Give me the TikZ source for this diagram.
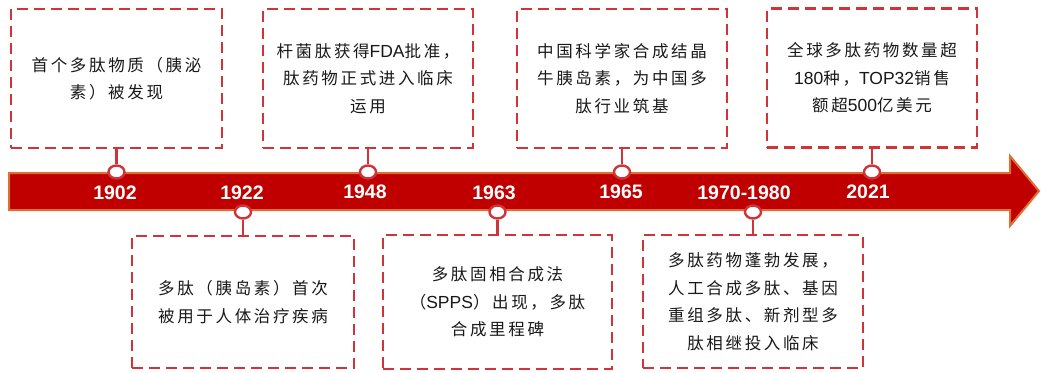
\documentclass[tikz,border=0pt]{standalone}
\usepackage{fontspec}
\usetikzlibrary{shapes.geometric}
\newfontfamily\cjkf[LetterSpace=16]{Noto Sans CJK SC}
\newfontfamily\latf{Liberation Sans}
\setmainfont{Liberation Sans}
\definecolor{bandred}{RGB}{192,0,0}
\definecolor{bandedge}{RGB}{222,110,50}
\definecolor{boxred}{RGB}{209,52,56}
\newcommand\Lt[1]{{\latf\fontsize{17.5}{27.5}\selectfont #1}}
\tikzset{
  evbox/.style={draw=boxred, line width=2.8pt, dash pattern=on 11pt off 6pt,
    fill=white, align=center, inner sep=0pt,
    font=\cjkf\fontsize{16.5}{27.5}\selectfont, text=black!90},
  evdot/.style={ellipse, draw=boxred, line width=2.4pt, fill=white,
    minimum width=16pt, minimum height=13pt, inner sep=0pt},
  conn/.style={draw=boxred, line width=2.8pt},
  yearlab/.style={text=white, font=\bfseries\fontsize{19.5}{20}\selectfont, inner sep=0pt}
}
\begin{document}
\begin{tikzpicture}[x=1pt,y=-1pt]
\useasboundingbox (0,0) rectangle (1041,372);
% band arrow
\path[fill=bandred, draw=bandedge, line width=2pt, line join=miter]
  (9,173) -- (1010,173) -- (1010,156) -- (1039,191) -- (1010,226) -- (1010,210) -- (9,210) -- cycle;
% top boxes
\node[evbox, minimum width=211pt, minimum height=139pt] (b1) at (116.5,78.5)
  {首个多肽物质（胰泌\\素）被发现};
\node[evbox, minimum width=210pt, minimum height=139pt] (b2) at (368,78.5)
  {杆菌肽获得\Lt{FDA}批准，\\肽药物正式进入临床\\运用};
\node[evbox, minimum width=210pt, minimum height=139pt] (b3) at (622,78.5)
  {中国科学家合成结晶\\牛胰岛素，为中国多\\肽行业筑基};
\node[evbox, minimum width=210pt, minimum height=139pt] (b4) at (872,78)
  {全球多肽药物数量超\\\Lt{180}种，\Lt{TOP32}销售\\额超\Lt{500}亿美元};
% bottom boxes
\node[evbox, minimum width=222pt, minimum height=132pt] (d1) at (243,302)
  {多肽（胰岛素）首次\\被用于人体治疗疾病};
\node[evbox, minimum width=229pt, minimum height=134pt] (d2) at (497.5,302)
  {多肽固相合成法\\（\Lt{SPPS}）出现，多肽\\合成里程碑};
\node[evbox, minimum width=220pt, minimum height=133pt] (d3) at (753,301.5)
  {多肽药物蓬勃发展，\\人工合成多肽、基因\\重组多肽、新剂型多\\肽相继投入临床};
% dots
\node[evdot] (c1) at (116.5,172) {};
\node[evdot] (c2) at (368,172) {};
\node[evdot] (c3) at (622,172) {};
\node[evdot] (c4) at (872,172) {};
\node[evdot] (e1) at (243,212) {};
\node[evdot] (e2) at (497.5,212) {};
\node[evdot] (e3) at (753,212) {};
% connectors
\draw[conn] (b1.south) -- (c1.north);
\draw[conn] (b2.south) -- (c2.north);
\draw[conn] (b3.south) -- (c3.north);
\draw[conn] (b4.south) -- (c4.north);
\draw[conn] (d1.north) -- (e1.south);
\draw[conn] (d2.north) -- (e2.south);
\draw[conn] (d3.north) -- (e3.south);
% year labels
\node[yearlab] (y1) at (115,193) {1902};
\node[yearlab] (y2) at (242,193) {1922};
\node[yearlab] (y3) at (365,192) {1948};
\node[yearlab] (y4) at (494,193) {1963};
\node[yearlab] (y5) at (621,192) {1965};
\node[yearlab] (y6) at (744,193) {1970-1980};
\node[yearlab] (y7) at (868,192) {2021};
\end{tikzpicture}
\end{document}
